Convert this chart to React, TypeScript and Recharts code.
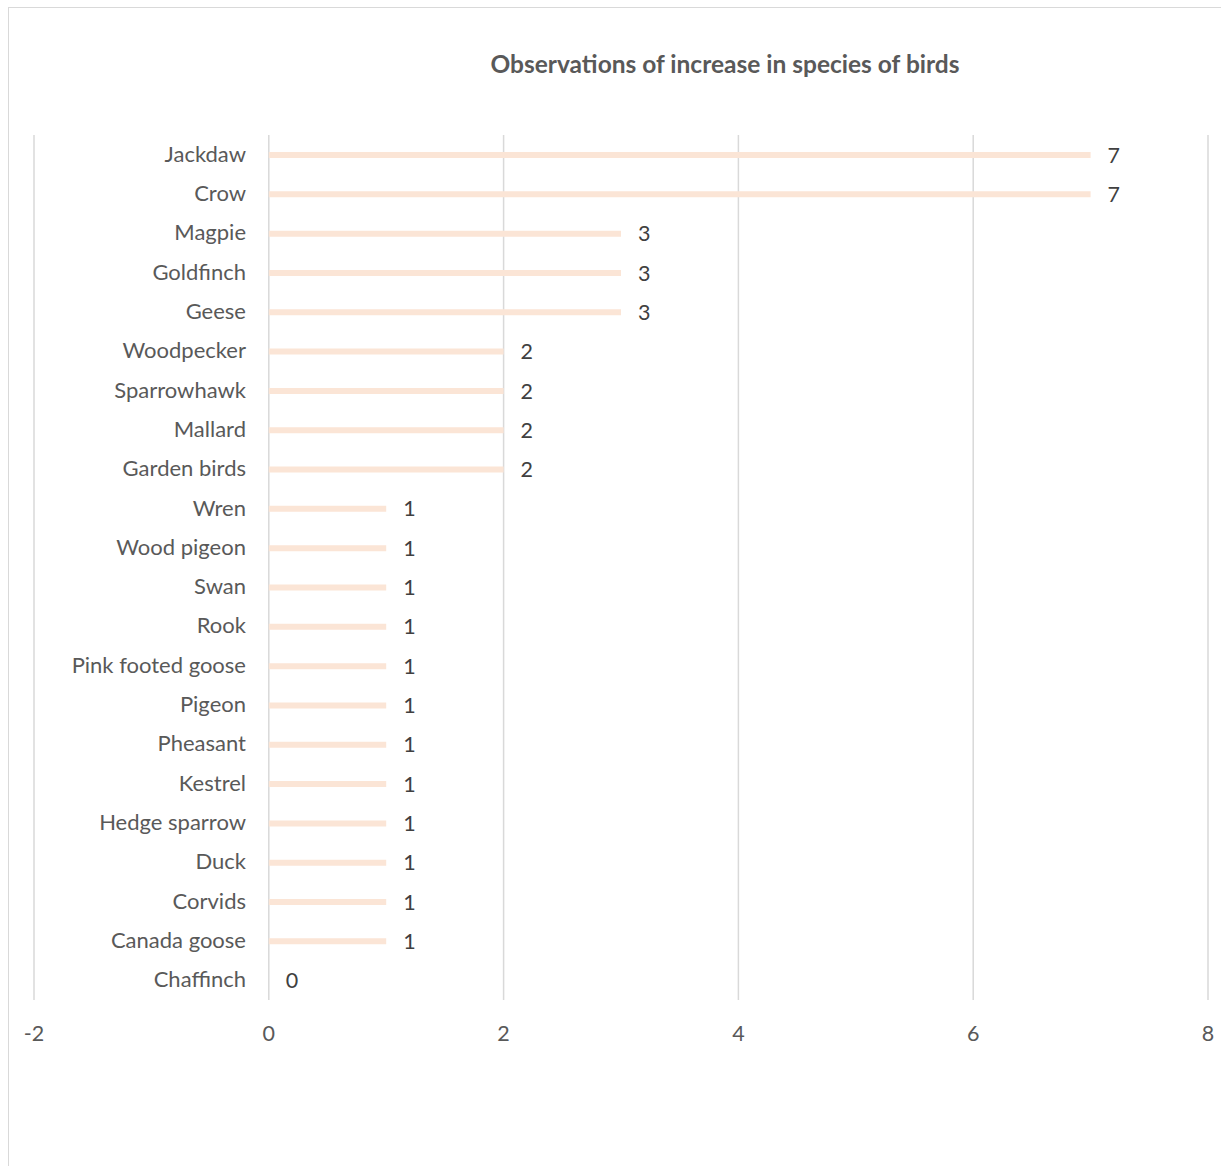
import { Bar, BarChart, CartesianGrid, LabelList, XAxis, YAxis } from "recharts";

const birds = [
  "Jackdaw",
  "Crow",
  "Magpie",
  "Goldfinch",
  "Geese",
  "Woodpecker",
  "Sparrowhawk",
  "Mallard",
  "Garden birds",
  "Wren",
  "Wood pigeon",
  "Swan",
  "Rook",
  "Pink footed goose",
  "Pigeon",
  "Pheasant",
  "Kestrel",
  "Hedge sparrow",
  "Duck",
  "Corvids",
  "Canada goose",
  "Chaffinch",
];

const counts = [7, 7, 3, 3, 3, 2, 2, 2, 2, 1, 1, 1, 1, 1, 1, 1, 1, 1, 1, 1, 1, 0];

const xTicks = [-2, 0, 2, 4, 6, 8];

const data = birds.map((name, i) => ({ name, count: counts[i] }));

const FONT = "Lato, 'Open Sans', sans-serif";
const TEXT = "#595959";

// category labels sit just left of the zero line, not at the plot's left edge
function BirdTick(props: any) {
  const { x, y, payload } = props;
  return (
    <text x={x + 212} y={y} dy={7} textAnchor="end" fill={TEXT} fontFamily={FONT} fontSize={22}>
      {payload.value}
    </text>
  );
}

export default function App() {
  return (
    <div style={{ position: "absolute", left: 0, top: 0, width: 1221, height: 1166, overflow: "hidden", background: "#fff" }}>
      <div
        style={{
          position: "absolute",
          left: 8,
          top: 7,
          width: 1240,
          height: 1180,
          border: "1.5px solid #D9D9D9",
        }}
      />
      <div
        style={{
          position: "absolute",
          left: 0,
          width: 1450,
          top: 49,
          textAlign: "center",
          fontFamily: FONT,
          fontWeight: 700,
          fontSize: 24.5,
          color: TEXT,
        }}
      >
        Observations of increase in species of birds
      </div>
      <div style={{ position: "absolute", left: 0, top: 0 }}>
        <BarChart
          width={1221}
          height={1166}
          data={data}
          layout="vertical"
          margin={{ top: 135, right: 13, bottom: 116, left: 0 }}
        >
          <CartesianGrid horizontal={false} stroke="#D9D9D9" strokeWidth={1.5} />
          <XAxis
            type="number"
            domain={[-2, 8]}
            ticks={xTicks}
            interval={0}
            axisLine={false}
            tickLine={false}
            tickSize={0}
            tickMargin={26}
            height={50}
            tick={{ fill: TEXT, fontFamily: FONT, fontSize: 21.5 }}
          />
          <YAxis
            type="category"
            dataKey="name"
            width={34}
            axisLine={false}
            tickLine={false}
            tickSize={0}
            tickMargin={0}
            interval={0}
            tick={(props: any) => <BirdTick {...props} />}
          />
          <Bar dataKey="count" fill="#FBE5D6" barSize={6} minPointSize={0.01} isAnimationActive={false}>
            <LabelList dataKey="count" position="right" offset={17} fill="#404040" fontFamily={FONT} fontSize={21.5} />
          </Bar>
        </BarChart>
      </div>
    </div>
  );
}
